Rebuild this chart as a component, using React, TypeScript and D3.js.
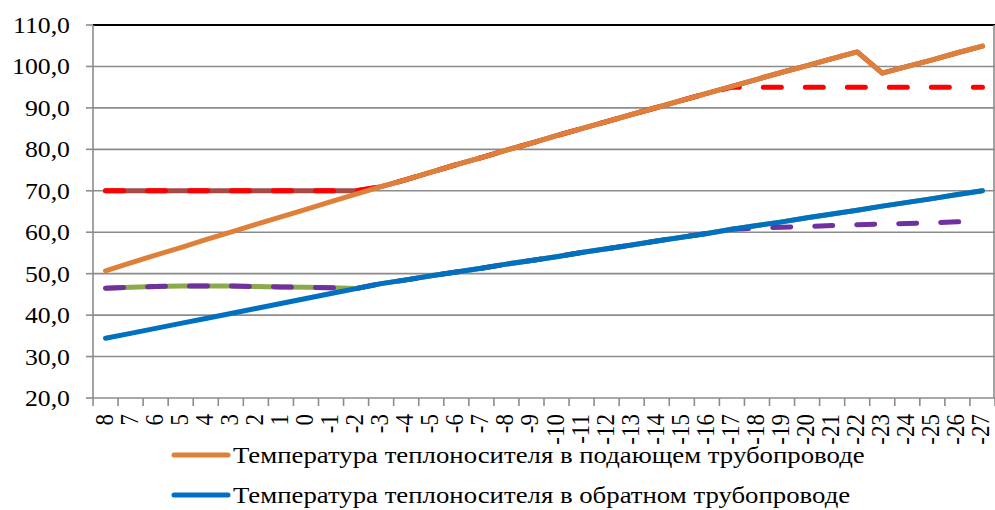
import React from "react";
import * as d3 from "d3";

const categories: string[] = [
  "8", "7", "6", "5", "4", "3", "2", "1", "0", "-1", "-2", "-3", "-4", "-5", "-6", "-7", "-8", "-9",
  "-10", "-11", "-12", "-13", "-14", "-15", "-16", "-17", "-18", "-19", "-20", "-21", "-22", "-23",
  "-24", "-25", "-26", "-27",
];

// Supply temperature (orange)
const supply: number[] = [
  50.7, 52.6, 54.5, 56.3, 58.2, 60.0, 61.9, 63.7, 65.5, 67.4, 69.2, 71.0, 72.7, 74.5, 76.3, 78.0,
  79.8, 81.5, 83.3, 85.0, 86.7, 88.4, 90.1, 91.8, 93.5, 95.2, 96.9, 98.6, 100.2, 101.9, 103.5,
  98.4, 100.0, 101.6, 103.3, 104.9,
];

// Return temperature (blue)
const ret: number[] = [
  34.4, 35.6, 36.8, 38.0, 39.2, 40.4, 41.6, 42.8, 44.0, 45.2, 46.4, 47.6, 48.5, 49.5, 50.4, 51.3,
  52.3, 53.2, 54.1, 55.1, 56.0, 56.9, 57.9, 58.8, 59.7, 60.7, 61.6, 62.5, 63.5, 64.4, 65.3, 66.3,
  67.2, 68.1, 69.1, 70.0,
];

// Supply with cut-off (dark red solid underlay)
const supplyCut: number[] = [
  70.0, 70.0, 70.0, 70.0, 70.0, 70.0, 70.0, 70.0, 70.0, 70.0, 70.0, 71.0, 72.7, 74.5, 76.3, 78.0,
  79.8, 81.5, 83.3, 85.0, 86.7, 88.4, 90.1, 91.8, 93.5, 95.2, 96.9, 98.6, 100.2, 101.9, 103.5,
  98.4, 100.0, 101.6, 103.3, 104.9,
];

// Supply with cut-off and limit (red dashed)
const supplyLimit: number[] = [
  70.0, 70.0, 70.0, 70.0, 70.0, 70.0, 70.0, 70.0, 70.0, 70.0, 70.0, 71.0, 72.7, 74.5, 76.3, 78.0,
  79.8, 81.5, 83.3, 85.0, 86.7, 88.4, 90.1, 91.8, 93.5, 95.0, 95.0, 95.0, 95.0, 95.0, 95.0, 95.0,
  95.0, 95.0, 95.0, 95.0,
];

// Return with cut-off (green solid underlay)
const returnCut: number[] = [
  46.5, 46.7, 46.9, 47.0, 47.0, 47.0, 46.9, 46.8, 46.7, 46.6, 46.4, 47.6, 48.5, 49.5, 50.4, 51.3,
  52.3, 53.2, 54.1, 55.1, 56.0, 56.9, 57.9, 58.8, 59.7, 60.7, 61.6, 62.5, 63.5, 64.4, 65.3, 66.3,
  67.2, 68.1, 69.1, 70.0,
];

// Return with cut-off and limit (purple dashed)
const returnLimit: number[] = [
  46.5, 46.7, 46.9, 47.0, 47.0, 47.0, 46.9, 46.8, 46.7, 46.6, 46.4, 47.6, 48.5, 49.5, 50.4, 51.3,
  52.3, 53.2, 54.1, 55.1, 56.0, 56.9, 57.9, 58.8, 59.7, 60.7, 61.0, 61.2, 61.4, 61.6, 61.8, 62.0,
  62.1, 62.3, 62.5, 62.7,
];

const yTicks: number[] = [20, 30, 40, 50, 60, 70, 80, 90, 100, 110];

const legendLabels: string[] = [
  "Температура теплоносителя в подающем трубопроводе",
  "Температура теплоносителя в обратном трубопроводе",
];

const W = 995;
const H = 510;
const left = 93;
const right = 995;
const top = 25;
const bottom = 398;
const FONT = "'Liberation Serif', 'Times New Roman', serif";
const FS = 23;
const SX = 1.12;
const SXL = 1.165;

export default function App() {
  const x = d3.scaleBand<string>().domain(categories).range([left, right]).padding(0);
  const y = d3.scaleLinear().domain([20, 110]).range([bottom, top]);
  const cx = (i: number) => (x(categories[i]) as number) + x.bandwidth() / 2;
  const line = d3
    .line<number>()
    .x((_, i) => cx(i))
    .y((d) => y(d));

  const boundaries = d3.range(categories.length + 1).map((k) => left + k * x.bandwidth());
  const textStyle = { fontFamily: FONT, fontSize: FS } as React.CSSProperties;

  return (
    <svg
      width={W}
      height={H}
      style={{ position: "absolute", left: 0, top: 0, background: "#fff" }}
    >
      <rect x={0} y={0} width={W} height={H} fill="#fff" />
      {yTicks.map((t) => (
        <line
          key={"g" + t}
          x1={left}
          x2={right}
          y1={y(t)}
          y2={y(t)}
          stroke={t === 110 ? "#000" : "#8c8c8c"}
          strokeWidth={t === 110 ? 2 : 1.6}
        />
      ))}
      <line x1={left} x2={left} y1={top} y2={bottom} stroke="#8c8c8c" strokeWidth={1.6} />
      <line x1={right - 1} x2={right - 1} y1={top} y2={bottom} stroke="#8c8c8c" strokeWidth={1.6} />
      {yTicks.map((t) => (
        <line key={"yt" + t} x1={left - 7} x2={left} y1={y(t)} y2={y(t)} stroke="#8c8c8c" strokeWidth={1.6} />
      ))}
      {yTicks.map((t) => (
        <text
          key={"yl" + t}
          transform={`translate(70,${y(t) + 8}) scale(${SX},1)`}
          textAnchor="end"
          style={textStyle}
          fill="#000"
        >
          {d3.format(".1f")(t).replace(".", ",")}
        </text>
      ))}
      {boundaries.map((bx, k) => (
        <line key={"xt" + k} x1={bx} x2={bx} y1={bottom} y2={bottom + 8} stroke="#8c8c8c" strokeWidth={1.6} />
      ))}
      {categories.map((c, i) => (
        <text
          key={"xl" + c}
          transform={`translate(${cx(i) + 7},414) scale(${SX},1) rotate(-90)`}
          textAnchor="end"
          style={textStyle}
          fill="#000"
        >
          {c}
        </text>
      ))}

      <path d={line(supplyCut) || ""} fill="none" stroke="#A94947" strokeWidth={5} strokeLinejoin="round" strokeLinecap="round" />
      <path d={line(returnCut) || ""} fill="none" stroke="#8BAA4D" strokeWidth={5} strokeLinejoin="round" strokeLinecap="round" />
      <path d={line(supplyLimit) || ""} fill="none" stroke="#FF0000" strokeWidth={5} strokeDasharray="18 24" strokeLinejoin="round" strokeLinecap="round" />
      <path d={line(returnLimit) || ""} fill="none" stroke="#7030A0" strokeWidth={5} strokeDasharray="18 24" strokeLinejoin="round" strokeLinecap="round" />
      <path d={line(supply) || ""} fill="none" stroke="#DF803A" strokeWidth={5} strokeLinejoin="round" strokeLinecap="round" />
      <path d={line(ret) || ""} fill="none" stroke="#0070C0" strokeWidth={5} strokeLinejoin="round" strokeLinecap="round" />

      {legendLabels.map((lab, i) => {
        const ly = 455 + i * 40;
        return (
          <g key={"lg" + i}>
            <line x1={174} x2={228} y1={ly} y2={ly} stroke={i === 0 ? "#DF803A" : "#0070C0"} strokeWidth={5} strokeLinecap="round" />
            <text
              transform={`translate(233,${ly + 8}) scale(${SXL},1)`}
              style={textStyle}
              fill="#000"
            >
              {lab}
            </text>
          </g>
        );
      })}
    </svg>
  );
}
